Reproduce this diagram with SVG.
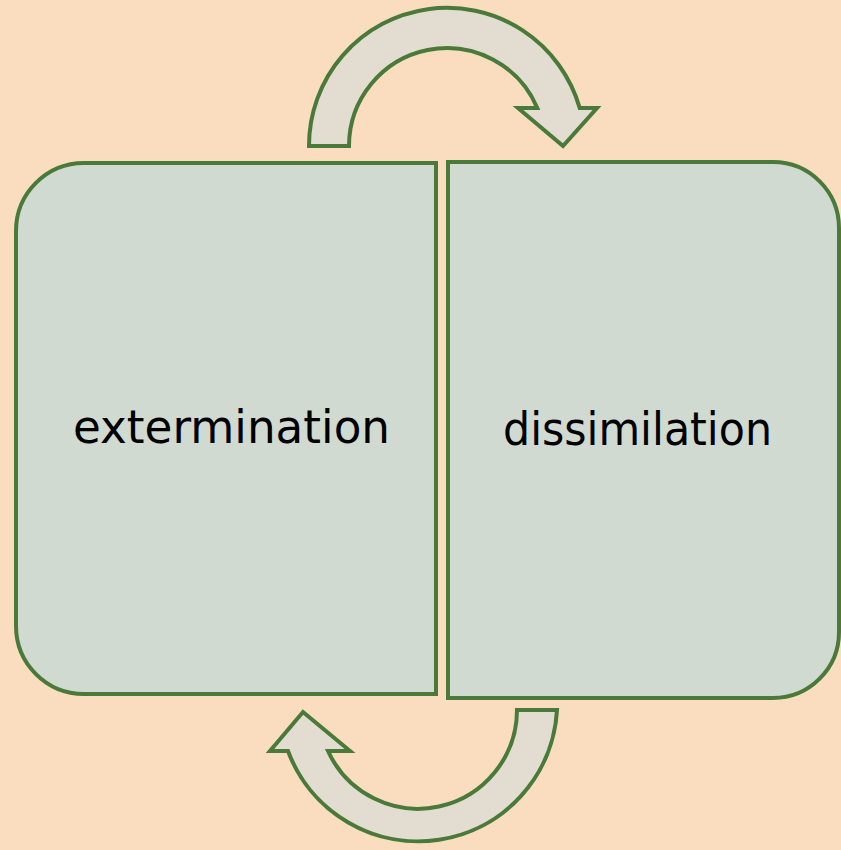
<svg xmlns="http://www.w3.org/2000/svg" width="841" height="850" viewBox="0 0 841 850">
<style>
.box{fill:#D0DAD1;stroke:#4A7A3A;stroke-width:4}
.arr{fill:#E3DDD1;stroke:#4A7A3A;stroke-width:4;stroke-linejoin:miter}
.lbl{font-family:"DejaVu Sans","Open Sans",sans-serif;font-size:46px;fill:#000;text-anchor:middle}
</style>
<rect width="841" height="850" fill="#FADDBF"/>
<g id="connectors">
<path id="arrow-top" class="arr" d="M309,146 A138,138 0 0 1 579.7,108 L597,108 L563,146 L518,108 L537.3,108 A98,98 0 0 0 349,146 Z"/>
<path id="arrow-bottom" class="arr" d="M557,710 A139,139 0 0 1 288,751 L270,751 L303,712 L350,751 L328,751 A99,99 0 0 0 517,710 Z"/>
</g>
<g id="node-extermination">
<path class="box" d="M436,163 L84,163 A68,68 0 0 0 16,231 L16,626 A68,68 0 0 0 84,694 L436,694 Z"/>
<text class="lbl" x="231.5" y="443" textLength="317" lengthAdjust="spacingAndGlyphs">extermination</text>
</g>
<g id="node-dissimilation">
<path class="box" d="M448,162 L773,162 A66,66 0 0 1 839,228 L839,632 A66,66 0 0 1 773,698 L448,698 Z"/>
<text class="lbl" x="637.5" y="445" textLength="269" lengthAdjust="spacingAndGlyphs">dissimilation</text>
</g>
</svg>
